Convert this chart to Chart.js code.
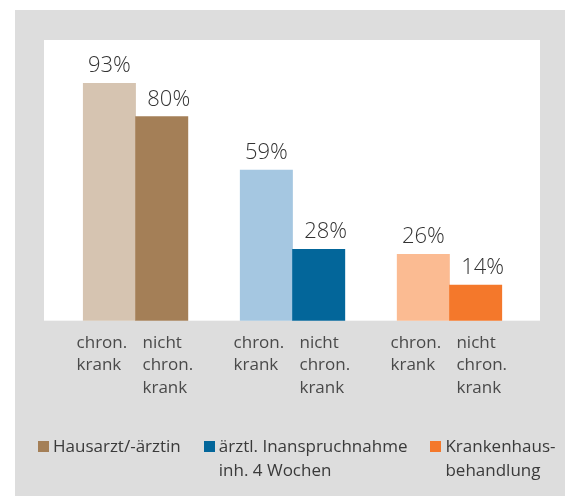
<!DOCTYPE html>
<html>
<head>
<meta charset="utf-8">
<script src="https://cdn.jsdelivr.net/npm/chart.js@4.4.0/dist/chart.umd.min.js"></script>
<style>
  html, body { margin: 0; padding: 0; background: #fff; }
  #wrap { position: relative; width: 565px; height: 496px; }
  #legend { position: absolute; left: 38px; top: 434px; display: flex; white-space: nowrap;
            font-family: 'Open Sans', sans-serif; font-size: 17px; line-height: 24px; color: #3a3a3a; }
  #legend .item { display: flex; flex: none; align-items: flex-start; margin-right: 23px; }
  #legend .box { width: 11px; height: 11px; margin-top: 7px; margin-right: 4px; flex: none; }
</style>
</head>
<body>
<div id="wrap">
  <canvas id="chart" width="565" height="496"></canvas>
  <div id="legend"></div>
</div>
<script>
// groups (legend) and bar captions
var groups = [["Hausarzt/-ärztin"], ["ärztl. Inanspruchnahme", "inh. 4 Wochen"], ["Krankenhaus-", "behandlung"]];
var barLabels = [["chron.", "krank"], ["nicht", "chron.", "krank"]];
var chronValues = [93, 59, 26];
var nichtChronValues = [80, 28, 14];

var lightColors = ['#d6c4b1', '#a5c7e1', '#fbbb92'];
var darkColors = ['#a47f57', '#03669a', '#f4782b'];

// one bar per (group, chron/nicht) with a one-bar gap between groups
var barX = [], barY = [], barColor = [], tickText = [];
for (let g = 0; g < groups.length; g++) {
    barX.push(g * 3, g * 3 + 1);
    barY.push(chronValues[g], nichtChronValues[g]);
    barColor.push(lightColors[g], darkColors[g]);
    tickText.push(barLabels[0], barLabels[1]);
}
var points = barX.map(function (x, i) { return { x: x, y: barY[i] }; });

Chart.defaults.font.family = "'Open Sans', sans-serif";

var background = {
    id: 'background',
    beforeDraw: function (chart) {
        var ctx = chart.ctx, a = chart.chartArea;
        ctx.save();
        ctx.fillStyle = '#ffffff';
        ctx.fillRect(0, 0, chart.width, chart.height);
        ctx.fillStyle = '#dddddd';
        ctx.fillRect(15, 10, chart.width - 15, chart.height - 10);
        ctx.fillStyle = '#ffffff';
        ctx.fillRect(a.left, a.top, a.right - a.left, a.bottom - a.top);
        ctx.restore();
    }
};

var valueLabels = {
    id: 'valueLabels',
    afterDatasetsDraw: function (chart) {
        var ctx = chart.ctx;
        var meta = chart.getDatasetMeta(0);
        ctx.save();
        ctx.font = '300 22px "Open Sans", sans-serif';
        ctx.fillStyle = '#333333';
        ctx.textAlign = 'center';
        ctx.textBaseline = 'alphabetic';
        meta.data.forEach(function (el, i) {
            var shift = (i % 2 === 1) ? 7 : 0;
            ctx.fillText(barY[i] + '%', el.x + shift, el.y - 11);
        });
        ctx.restore();
    }
};

new Chart(document.getElementById('chart'), {
    type: 'bar',
    data: {
        datasets: [{
            data: points,
            backgroundColor: barColor,
            borderWidth: 0,
            barPercentage: 1,
            categoryPercentage: 1
        }]
    },
    options: {
        responsive: false,
        animation: false,
        layout: { padding: { left: 44, right: 25, top: 40, bottom: 86 } },
        scales: {
            x: {
                type: 'linear',
                offset: false,
                min: -1.25,
                max: 8.23,
                grid: { display: false, drawTicks: false },
                border: { display: false },
                afterBuildTicks: function (scale) {
                    // captions sit a bit apart from each other, like the original
                    scale.ticks = barX.map(function (v, i) { return { value: v + (i % 2 ? 0.13 : -0.13) }; });
                },
                ticks: {
                    autoSkip: false,
                    maxRotation: 0,
                    minRotation: 0,
                    align: 'start',
                    labelOffset: -26,
                    padding: 11,
                    color: '#4a4a4a',
                    font: { size: 17, lineHeight: 1.32 },
                    callback: function (value, index) { return tickText[index]; }
                }
            },
            y: {
                display: false,
                min: 0,
                max: 110
            }
        },
        plugins: {
            tooltip: { enabled: false },
            legend: { display: false }
        }
    },
    plugins: [background, valueLabels]
});

// legend in html, colours of the darker bars
var legendEl = document.getElementById('legend');
groups.forEach(function (lines, i) {
    var item = document.createElement('div');
    item.className = 'item';
    var box = document.createElement('span');
    box.className = 'box';
    box.style.background = darkColors[i];
    var txt = document.createElement('span');
    txt.innerHTML = lines.join('<br>');
    item.appendChild(box);
    item.appendChild(txt);
    legendEl.appendChild(item);
});
</script>
</body>
</html>
